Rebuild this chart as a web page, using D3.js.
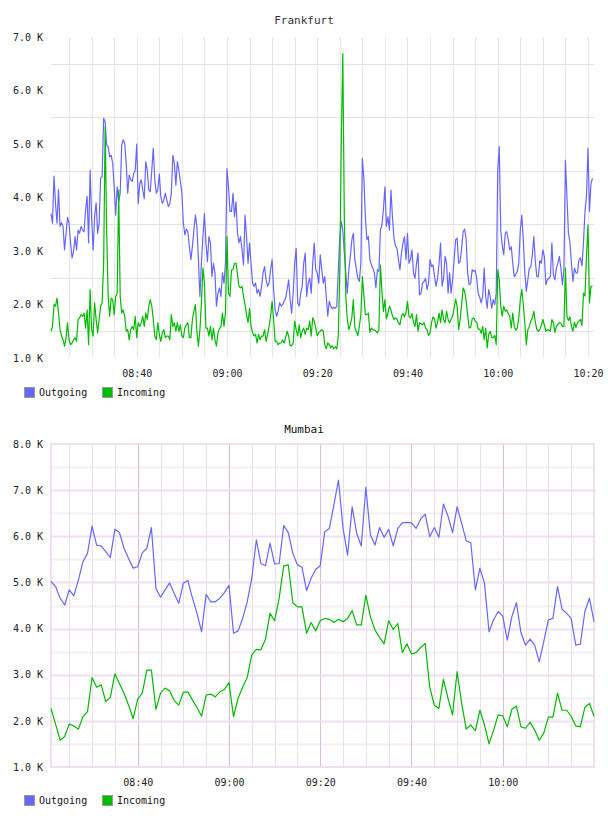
<!DOCTYPE html>
<html>
<head>
<meta charset="utf-8">
<script src="https://cdn.jsdelivr.net/npm/d3@7"></script>
<style>
html, body { margin: 0; padding: 0; background: #fff; }
svg { display: block; }
text { font-family: "DejaVu Sans Mono", monospace; }
</style>
</head>
<body>
<svg id="chart" width="608" height="816"></svg>
<script>
// values in thousands (K). Frankfurt: one sample every 20 s from 08:21, Mumbai: one per minute from 08:21
const frankfurtOutgoing = [
  3.70,3.52,4.40,3.89,3.52,4.15,3.46,3.53,3.46,3.02,3.33,3.63,3.52,3.15,2.87,2.99,3.27,3.02,3.39,3.33,
  3.46,3.39,3.36,3.77,4.02,3.15,4.51,3.64,3.02,3.64,3.90,3.33,3.52,4.36,4.39,5.48,5.41,4.98,4.95,4.76,
  4.79,4.64,4.20,3.67,4.20,3.92,4.08,4.98,5.08,5.01,4.64,4.08,4.42,4.33,4.30,4.45,4.51,5.00,3.89,4.26,
  4.33,4.14,3.98,4.67,4.51,4.14,4.11,4.51,4.92,4.33,4.08,4.14,4.44,4.02,3.89,3.95,4.08,3.95,3.83,3.89,
  4.08,4.79,4.64,4.23,4.67,4.51,4.30,4.08,3.52,3.30,3.41,
  3.36,3.08,2.84,3.08,3.39,3.67,3.46,2.84,2.15,2.77,3.27,3.70,3.15,2.80,3.27,3.15,2.52,2.77,2.59,1.97,
  2.21,2.31,2.15,2.59,2.40,2.77,4.54,4.20,3.74,3.74,4.08,3.64,3.92,3.33,3.15,3.27,3.02,2.74,3.67,3.27,
  2.77,3.15,2.77,2.40,2.34,2.40,2.21,2.28,2.15,2.34,2.59,2.71,2.46,2.34,2.40,2.65,2.84,2.28,1.90,1.78,
  1.87,2.03,1.97,2.00,2.06,2.12,2.28,2.46,2.09,1.84,2.21,2.77,3.05,2.03,1.97,2.21,2.34,2.77,2.96,2.15,
  2.40,2.49,2.21,2.77,3.15,2.65,2.59,2.40,2.93,2.65,2.40,
  2.52,2.15,1.78,2.06,1.97,1.92,1.95,1.93,1.97,2.65,3.27,3.55,3.39,2.96,2.59,2.21,2.65,2.90,3.21,3.33,
  2.84,2.66,2.49,2.43,2.77,4.73,4.36,3.64,3.21,3.27,2.84,2.74,2.68,2.59,2.31,2.65,2.62,3.39,3.49,3.77,
  4.20,3.46,3.64,3.39,4.14,3.64,3.24,3.10,3.05,2.84,2.65,2.96,3.15,3.27,2.84,3.33,2.77,2.84,3.02,2.59,
  2.49,2.77,2.96,2.18,2.21,2.40,2.43,2.49,2.28,2.40,2.84,2.71,2.74,2.52,2.34,2.49,2.77,3.15,2.34,2.49,
  2.90,2.77,2.21,2.59,2.21,2.46,2.84,3.21,3.24,2.77,
  2.80,3.05,3.36,3.41,3.22,2.59,2.37,2.39,2.65,2.62,2.64,2.49,2.21,2.14,2.03,2.15,2.68,2.15,1.93,2.28,
  2.15,1.93,2.09,2.00,2.21,4.51,4.95,3.39,3.11,2.93,3.33,3.36,3.21,3.02,3.08,2.77,2.52,2.56,2.62,2.77,
  3.39,3.67,3.21,2.60,2.25,2.46,2.68,2.70,2.93,3.27,2.80,2.52,2.52,2.82,2.77,3.02,2.90,2.37,2.46,2.49,
  2.52,3.15,2.56,2.46,2.68,2.77,2.90,2.68,2.37,2.65,4.70,4.02,3.33,3.16,2.77,2.43,2.68,2.59,2.59,2.84,
  2.87,2.72,3.15,3.74,4.02,4.92,3.74,4.26,4.36
];
const frankfurtIncoming = [
  1.50,1.59,2.00,1.97,2.12,1.84,1.53,1.41,1.34,1.22,1.38,1.66,1.34,1.25,1.28,1.34,1.38,1.31,1.72,1.75,
  1.81,1.78,1.84,1.56,1.90,1.25,2.28,1.53,1.41,2.03,1.72,1.47,1.72,1.97,2.03,2.77,5.32,3.39,2.15,1.78,
  2.12,2.09,1.81,2.15,2.21,4.14,2.15,1.84,1.90,1.78,1.50,1.53,1.34,1.53,1.59,1.53,1.78,1.38,1.66,1.59,
  1.66,1.78,1.59,1.84,1.72,1.97,2.09,1.97,1.72,1.41,1.34,1.66,1.44,1.31,1.47,1.53,1.38,1.41,1.41,1.34,
  1.81,1.59,1.66,1.50,1.66,1.50,1.62,1.41,1.38,1.56,1.62,
  1.66,1.38,1.38,1.72,1.87,2.00,1.50,1.22,1.53,2.03,2.68,2.40,1.56,1.56,1.41,1.59,1.34,1.56,1.34,1.22,
  1.47,1.55,1.59,1.84,1.59,1.84,3.27,2.21,2.15,2.65,2.65,2.77,2.77,2.56,2.34,2.31,2.34,2.15,2.00,1.81,
  1.66,1.93,1.59,1.47,1.41,1.44,1.28,1.44,1.34,1.41,1.41,1.53,1.31,1.44,1.59,1.78,2.06,1.72,1.31,1.31,
  1.25,1.28,1.28,1.34,1.28,1.38,1.50,1.41,1.23,1.23,1.28,1.69,1.53,1.41,1.62,1.38,1.50,1.56,1.44,1.56,
  1.53,1.69,1.41,1.75,1.69,1.56,1.42,1.47,1.50,1.53,1.50,
  1.25,1.17,1.28,1.25,1.19,1.23,1.17,1.21,1.17,1.41,2.65,5.07,6.69,3.64,2.15,1.72,1.53,1.62,1.75,2.09,
  1.56,1.50,1.42,1.59,1.81,2.52,2.18,1.81,1.81,1.84,1.48,1.56,1.53,1.52,1.50,1.47,1.53,2.74,2.25,1.87,
  2.09,1.73,1.84,1.97,1.90,1.79,1.72,1.75,1.73,1.66,1.62,1.78,1.83,1.77,1.84,2.06,1.78,1.75,1.83,1.67,
  1.59,1.81,1.50,1.66,1.64,1.62,1.66,1.56,1.53,1.42,1.47,1.66,1.77,1.73,1.56,1.67,1.84,1.66,1.90,1.72,
  1.66,1.87,1.72,1.66,1.73,1.78,1.93,2.10,1.97,1.53,
  1.72,2.00,2.31,2.25,2.06,1.81,1.56,1.57,1.73,1.75,1.69,1.67,1.54,1.54,1.46,1.59,1.34,1.56,1.19,1.44,
  1.50,1.38,1.38,1.42,1.25,2.65,2.46,1.97,1.78,1.97,1.87,1.90,1.83,1.78,1.56,1.84,1.59,1.52,1.56,1.75,
  2.09,2.28,2.00,1.66,1.25,1.53,1.59,1.69,1.75,1.87,1.67,1.53,1.50,1.53,1.61,1.72,1.62,1.50,1.53,1.52,
  1.50,1.72,1.66,1.48,1.59,1.63,1.66,1.65,1.59,1.59,2.68,1.78,1.70,1.77,1.59,1.50,1.67,1.57,1.66,1.69,
  1.72,1.61,2.21,2.16,2.90,3.49,2.03,2.34,2.34
];
const mumbaiOutgoing = [
  5.02,4.91,4.66,4.51,4.84,4.71,5.05,5.45,5.63,6.22,5.81,5.79,5.67,5.54,6.15,6.08,5.74,5.52,5.31,5.34,
  5.64,5.74,6.19,4.87,4.68,4.84,4.99,4.76,4.55,4.98,5.04,4.66,4.33,3.93,4.74,4.58,4.58,4.66,4.78,4.94,
  3.90,3.95,4.22,4.58,5.09,5.92,5.41,5.36,5.85,5.40,5.41,6.23,6.08,5.63,5.38,5.33,4.82,5.09,5.28,5.36,
  6.10,6.17,6.68,7.22,6.17,5.59,6.64,6.06,5.79,7.06,6.03,5.81,6.19,5.98,6.15,5.79,6.17,6.29,6.30,6.29,
  6.17,6.37,6.48,5.99,6.19,5.98,6.70,6.44,6.08,6.64,6.28,5.90,5.86,4.84,5.31,4.98,3.93,4.19,4.37,4.27,
  3.75,4.26,4.56,3.91,3.64,3.77,3.64,3.28,3.72,4.19,4.22,4.91,4.42,4.33,4.22,3.64,3.66,4.37,4.66,4.15
];
const mumbaiIncoming = [
  2.27,1.93,1.58,1.66,1.93,1.89,1.82,2.09,2.20,2.94,2.73,2.78,2.42,2.51,3.02,2.81,2.60,2.34,2.05,2.47,
  2.60,3.10,3.10,2.25,2.60,2.71,2.65,2.44,2.34,2.62,2.63,2.45,2.29,2.10,2.56,2.58,2.52,2.63,2.68,2.83,
  2.09,2.49,2.73,2.94,3.43,3.55,3.54,3.77,4.33,4.17,4.66,5.36,5.38,4.56,4.47,4.47,3.90,4.13,3.95,4.17,
  4.22,4.20,4.13,4.20,4.15,4.22,4.39,4.08,4.08,4.72,4.26,3.97,3.81,3.67,4.17,3.98,4.11,3.48,3.67,3.45,
  3.48,3.59,3.68,2.73,2.34,2.27,2.90,2.49,2.13,3.07,2.38,1.82,1.91,1.79,2.23,1.91,1.50,1.80,2.13,2.11,
  1.87,2.25,2.32,1.87,1.84,1.97,1.80,1.58,1.74,2.08,2.08,2.60,2.23,2.23,2.10,1.89,1.87,2.29,2.38,2.10
];
const frankfurtTicks = ["08:40", "09:00", "09:20", "09:40", "10:00", "10:20"];
const mumbaiTicks = ["08:40", "09:00", "09:20", "09:40", "10:00"];
const frankfurtYTicks = [1, 2, 3, 4, 5, 6, 7];
const mumbaiYTicks = [1, 2, 3, 4, 5, 6, 7, 8];
const seriesNames = ["Outgoing", "Incoming"];
const seriesColors = ["#6666ff", "#00bb00"];

const svg = d3.select("#chart");
const hm = d3.utcParse("%H:%M:%S");

function toPoints(start, stepSec, vals) {
  const t0 = hm(start).getTime();
  return vals.map((v, i) => ({ t: new Date(t0 + i * stepSec * 1000), v: v }));
}

function panel(o) {
  const x = d3.scaleUtc().domain(o.xDomain).range([51, 594]);
  const y = d3.scaleLinear().domain(o.yDomain).range([o.bottom, o.top]);
  const g = svg.append("g");

  // grid
  const fives = d3.utcMinute.every(5).range(o.xDomain[0], o.xDomain[1]);
  const halves = d3.range(o.yDomain[0] + 0.5, o.yDomain[1], 1);
  g.selectAll(".hmin").data(halves).enter().append("line")
    .attr("x1", 51).attr("x2", 594)
    .attr("y1", d => Math.round(y(d)) + 0.5).attr("y2", d => Math.round(y(d)) + 0.5)
    .attr("stroke", o.minorH).attr("stroke-width", o.hWidth);
  g.selectAll(".vmin").data(fives).enter().append("line")
    .attr("x1", d => Math.round(x(d)) + 0.5).attr("x2", d => Math.round(x(d)) + 0.5)
    .attr("y1", o.top).attr("y2", o.bottom)
    .attr("stroke", d => (o.majorV && d.getUTCMinutes() % 20 === 0) ? o.majorV : o.minorV)
    .attr("stroke-width", 1);
  if (o.majorH) {
    g.selectAll(".hmaj").data(d3.range(o.yDomain[0] + 1, o.yDomain[1], 1)).enter().append("line")
      .attr("x1", 51).attr("x2", 594)
      .attr("y1", d => Math.round(y(d)) + 0.5).attr("y2", d => Math.round(y(d)) + 0.5)
      .attr("stroke", o.majorH).attr("stroke-width", o.hWidth);
  }
  if (o.border) {
    g.append("rect").attr("x", 51).attr("y", o.top)
      .attr("width", 543).attr("height", o.bottom - o.top)
      .attr("fill", "none").attr("stroke", o.border).attr("stroke-width", 1.5);
  }

  // lines
  const line = d3.line().x(d => x(d.t)).y(d => y(d.v));
  o.series.forEach((s, i) => {
    g.append("path").datum(s)
      .attr("fill", "none")
      .attr("stroke", seriesColors[i])
      .attr("stroke-width", 1.2)
      .attr("stroke-linejoin", "round")
      .attr("d", line);
  });

  // axes
  const yAxis = g.append("g").attr("transform", "translate(51,0)")
    .call(d3.axisLeft(y).tickValues(o.yTicks).tickSize(0).tickPadding(8)
      .tickFormat(d => d3.format(".1f")(d) + " K"));
  yAxis.select(".domain").remove();
  yAxis.selectAll("text").attr("font-family", "DejaVu Sans Mono").attr("font-size", 10).attr("fill", "#222");

  const xAxis = g.append("g").attr("transform", "translate(0," + o.bottom + ")")
    .call(d3.axisBottom(x).tickValues(o.xTicks.map(s => hm(s + ":00"))).tickSize(0)
      .tickFormat(d3.utcFormat("%H:%M")));
  xAxis.select(".domain").remove();
  xAxis.selectAll("text").attr("y", 15).attr("dy", "0.35em")
    .attr("font-family", "DejaVu Sans Mono").attr("font-size", 10).attr("fill", "#222");

  // title
  svg.append("text").attr("x", 304).attr("y", o.titleY).attr("dy", "0.35em")
    .attr("text-anchor", "middle").attr("font-size", 11).attr("fill", o.titleColor)
    .text(o.title);

  // legend
  const lg = svg.append("g").attr("transform", "translate(0," + o.legendY + ")");
  const items = lg.selectAll("g").data(seriesNames).enter().append("g")
    .attr("transform", (d, i) => "translate(" + [24, 102][i] + ",0)");
  items.append("rect").attr("x", 0.5).attr("y", -4.5).attr("width", 10).attr("height", 10)
    .attr("fill", (d, i) => seriesColors[i]).attr("stroke", "#999");
  items.append("text").attr("x", 15).attr("y", 0).attr("dy", "0.35em")
    .attr("font-size", 10).attr("fill", "#111").text(d => d);
}

panel({
  title: "Frankfurt", titleY: 20.5, titleColor: "#333",
  top: 37, bottom: 358, legendY: 392,
  xDomain: [hm("08:21:00"), hm("10:21:20")], yDomain: [1, 7],
  xTicks: frankfurtTicks, yTicks: frankfurtYTicks,
  series: [toPoints("08:21:00", 20, frankfurtOutgoing), toPoints("08:21:00", 20, frankfurtIncoming)],
  minorH: "#e2e2e2", minorV: "#e6e6e6", hWidth: 1
});

panel({
  title: "Mumbai", titleY: 429, titleColor: "#111",
  top: 444, bottom: 767, legendY: 800,
  xDomain: [hm("08:21:00"), hm("10:20:00")], yDomain: [1, 8],
  xTicks: mumbaiTicks, yTicks: mumbaiYTicks,
  series: [toPoints("08:21:00", 60, mumbaiOutgoing), toPoints("08:21:00", 60, mumbaiIncoming)],
  minorH: "#f3eff3", minorV: "#e8dfe8", majorH: "#f0dff0", majorV: "#d9bcd9",
  border: "#ead6ea", hWidth: 2
});
</script>
</body>
</html>
